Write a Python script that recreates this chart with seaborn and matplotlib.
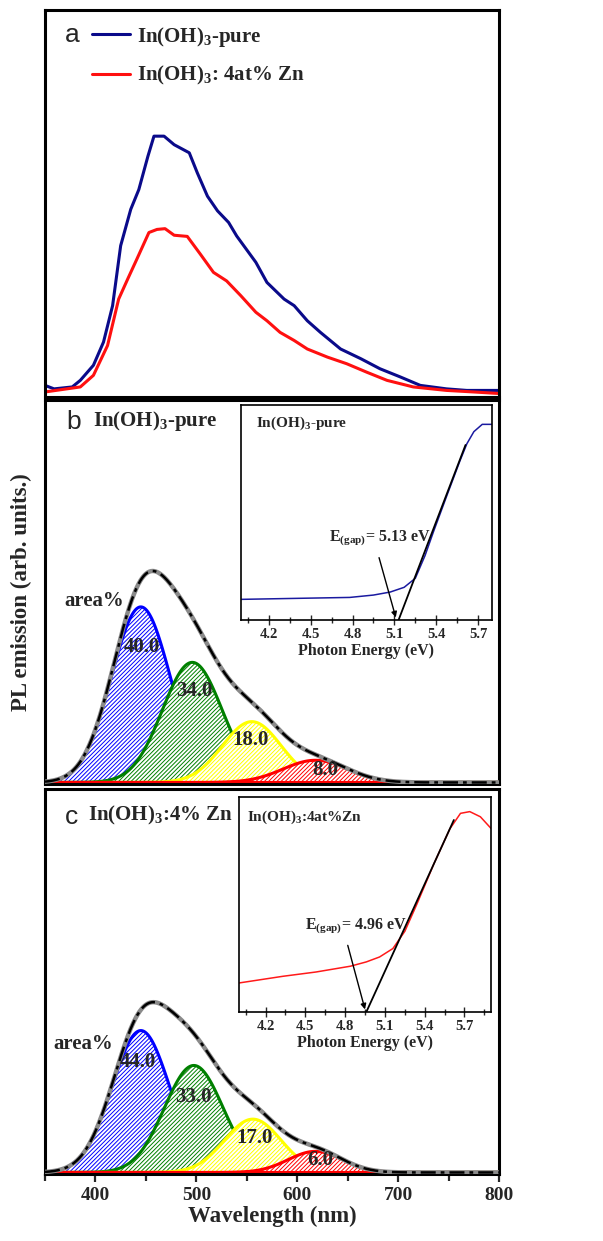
import numpy as np
import matplotlib
matplotlib.use("Agg")
import matplotlib.pyplot as plt
import seaborn as sns
from matplotlib.ticker import MultipleLocator, NullLocator

# ---------------- data ----------------
# panel a: PL spectra
wl_pure = [350, 359, 377, 385, 398, 408, 417, 425, 435, 443, 452, 458, 468, 478, 493, 501, 511,
           521, 532, 540, 559, 570, 587, 597, 610, 623, 643, 663, 682, 702, 722, 748, 768, 800]
pl_pure = [0.030, 0.021, 0.026, 0.043, 0.082, 0.142, 0.236, 0.391, 0.485, 0.536, 0.622, 0.674,
           0.674, 0.652, 0.631, 0.579, 0.519, 0.481, 0.451, 0.416, 0.348, 0.296, 0.253, 0.236,
           0.197, 0.167, 0.124, 0.099, 0.073, 0.052, 0.030, 0.021, 0.017, 0.017]
wl_zn = [350, 385, 398, 412, 423, 432, 441, 453, 461, 469, 478, 491, 504, 517, 530, 544, 559,
         570, 583, 597, 610, 630, 649, 669, 689, 715, 748, 775, 800]
pl_zn = [0.013, 0.026, 0.056, 0.133, 0.253, 0.305, 0.356, 0.425, 0.433, 0.435, 0.418, 0.415,
         0.369, 0.322, 0.300, 0.262, 0.219, 0.197, 0.167, 0.146, 0.124, 0.103, 0.086, 0.064,
         0.043, 0.026, 0.017, 0.013, 0.009]
legend_labels = [r"In(OH)$_\mathregular{3}$-pure", r"In(OH)$_\mathregular{3}$: 4at% Zn"]

# panels b, c: fitted Gaussian components (centre nm, height, sigma nm)
comp_colors = ["#0000ff", "#008000", "#ffff00", "#ff0000"]
centers_b = [445, 496, 555, 618]
heights_b = [0.459, 0.314, 0.159, 0.058]
sigmas_b = [29, 29.5, 29, 32]
areas_b = ["40.0", "34.0", "18.0", "8.0"]

centers_c = [445, 497.5, 556, 618]
heights_c = [0.370, 0.279, 0.139, 0.055]
sigmas_c = [28.5, 29, 28, 27]
areas_c = ["44.0", "33.0", "17.0", "6.0"]

# insets: absorption vs photon energy
e_b = [4.0, 4.43, 4.78, 4.95, 5.07, 5.17, 5.25, 5.32, 5.38, 5.48, 5.57, 5.62, 5.67, 5.73, 5.80]
a_b = [0.096, 0.101, 0.105, 0.116, 0.130, 0.152, 0.194, 0.30, 0.41, 0.585, 0.74, 0.82, 0.876,
       0.910, 0.910]
tan_b_e = [5.13, 5.61]
tan_b_a = [0.0, 0.814]

e_c = [4.0, 4.33, 4.58, 4.84, 4.96, 5.06, 5.16, 5.25, 5.34, 5.47, 5.59, 5.67, 5.74, 5.82, 5.90]
a_c = [0.135, 0.166, 0.186, 0.213, 0.233, 0.256, 0.295, 0.375, 0.50, 0.69, 0.852, 0.924, 0.932,
       0.908, 0.854]
tan_c_e = [4.96, 5.62]
tan_c_a = [0.0, 0.893]

# ---------------- style ----------------
sns.set_theme(style="white")
plt.rcParams["font.family"] = ["Liberation Serif", "DejaVu Serif"]
plt.rcParams["font.weight"] = "bold"
plt.rcParams["axes.labelweight"] = "bold"
plt.rcParams["mathtext.fontset"] = "custom"
plt.rcParams["mathtext.rm"] = "Liberation Serif:bold"
plt.rcParams["mathtext.it"] = "Liberation Serif:bold"
plt.rcParams["mathtext.bf"] = "Liberation Serif:bold"
plt.rcParams["hatch.linewidth"] = 0.7
plt.rcParams["axes.edgecolor"] = "black"

fig = plt.figure(figsize=(6.03, 12.41), dpi=100)
W, H = 603.0, 1241.0


def add_ax(x0, y0, x1, y1):
    return fig.add_axes([x0 / W, 1 - y1 / H, (x1 - x0) / W, (y1 - y0) / H])


ax_a = add_ax(45, 10, 499, 397)
ax_b = add_ax(45, 400, 499, 784)
ax_c = add_ax(45, 789, 499, 1174)

for ax in (ax_a, ax_b, ax_c):
    ax.set_xlim(350, 800)
    for s in ax.spines.values():
        s.set_linewidth(2.2)
        s.set_color("black")
    ax.yaxis.set_major_locator(NullLocator())
ax_a.set_ylim(0, 1)
ax_b.set_ylim(-0.004, 1)
ax_c.set_ylim(-0.004, 1)

# ---- panel a ----
sns.lineplot(x=wl_pure, y=pl_pure, color="#0a0a8a", lw=2.2, ax=ax_a, label=legend_labels[0],
             estimator=None, sort=False)
sns.lineplot(x=wl_zn, y=pl_zn, color="#ff1010", lw=2.2, ax=ax_a, label=legend_labels[1],
             estimator=None, sort=False)
ax_a.legend(loc="upper left", bbox_to_anchor=(0.103, 0.962), frameon=False, fontsize=15,
            handlelength=1.85, handletextpad=0.3, labelspacing=0.75, borderpad=0,
            borderaxespad=0)
ax_a.set_xticks([])
ax_a.set_ylabel("")
ax_a.set_xlabel("")
ax_a.text(0.044, 0.935, "a", transform=ax_a.transAxes, family="Liberation Sans",
          weight="normal", fontsize=19, va="center", ha="left")

# ---- panels b, c ----
grid = np.linspace(350, 800, 901)


def draw_fit(ax, centers, heights, sigmas, areas, label_pos, area_pos):
    total = np.zeros_like(grid)
    for c, h, s, col in zip(centers, heights, sigmas, comp_colors):
        y = h * np.exp(-(grid - c) ** 2 / (2 * s ** 2))
        total += y
        ax.fill_between(grid, 0, y, facecolor="white", edgecolor=col, hatch="////////",
                        lw=2.2, zorder=2)
    sns.lineplot(x=grid, y=total, color="#8a8a8a", lw=3.2, ax=ax, estimator=None, sort=False,
                 zorder=3)
    sns.lineplot(x=grid, y=total, color="black", lw=1.8, ax=ax, estimator=None, sort=False,
                 zorder=4, linestyle=(0, (6, 2, 1.5, 2)))
    for txt, (x, y) in zip(areas, label_pos):
        ax.text(x, y, txt, fontsize=15, fontweight="bold", ha="center", va="center", zorder=5)
    ax.text(area_pos[0], area_pos[1], "area%", fontsize=15, fontweight="bold", ha="left",
            va="center", zorder=5)
    ax.set_ylabel("")
    ax.set_xlabel("")


draw_fit(ax_b, centers_b, heights_b, sigmas_b, areas_b,
         [(446, 0.353), (498, 0.24), (554, 0.11), (628, 0.032)], (369, 0.474))
draw_fit(ax_c, centers_c, heights_c, sigmas_c, areas_c,
         [(442, 0.287), (497.5, 0.197), (558, 0.09), (623, 0.032)], (358, 0.335))

ax_b.set_xticks([])
ax_b.text(0.048, 0.943, "b", transform=ax_b.transAxes, family="Liberation Sans",
          weight="normal", fontsize=19, va="center", ha="left")
ax_b.text(0.106, 0.945, r"In(OH)$_\mathregular{3}$-pure", transform=ax_b.transAxes,
          fontsize=15, fontweight="bold", va="center", ha="left")
ax_c.text(0.044, 0.927, "c", transform=ax_c.transAxes, family="Liberation Sans",
          weight="normal", fontsize=19, va="center", ha="left")
ax_c.text(0.095, 0.93, r"In(OH)$_\mathregular{3}$:4% Zn", transform=ax_c.transAxes,
          fontsize=15, fontweight="bold", va="center", ha="left")

ax_c.xaxis.set_major_locator(MultipleLocator(100))
ax_c.xaxis.set_minor_locator(MultipleLocator(50))
ax_c.tick_params(axis="x", which="both", direction="out", bottom=True, width=1.6,
                 labelsize=14, pad=3)
ax_c.tick_params(axis="x", which="major", length=6)
ax_c.tick_params(axis="x", which="minor", length=5)
for lab in ax_c.get_xticklabels():
    lab.set_fontweight("bold")
ax_c.set_xlabel("Wavelength (nm)", fontsize=16.5, fontweight="bold", labelpad=2)

fig.text(0.036, 1 - 592 / H, "PL emission (arb. units.)", rotation=90, fontsize=16.5,
         fontweight="bold", ha="center", va="center")

# ---- insets ----
in_b = add_ax(241, 405, 492, 620)
in_c = add_ax(239, 797, 491, 1012)


def style_inset(ax, xmax):
    ax.set_xlim(4.0, xmax)
    ax.set_ylim(0, 1)
    for s in ax.spines.values():
        s.set_linewidth(1.2)
        s.set_color("black")
    ax.yaxis.set_major_locator(NullLocator())
    ax.set_xticks(np.round(np.arange(4.2, 5.71, 0.3), 2))
    ax.set_xticks(np.round(np.arange(4.05, xmax, 0.3), 2), minor=True)
    ax.tick_params(axis="x", which="both", direction="inout", bottom=True, width=1.0,
                   labelsize=10.5, pad=2)
    ax.tick_params(axis="x", which="major", length=7)
    ax.tick_params(axis="x", which="minor", length=5)
    ax.set_xticklabels([f"{v:.1f}" for v in np.arange(4.2, 5.71, 0.3)], fontweight="bold")
    ax.set_xlabel("Photon Energy (eV)", fontsize=11.5, fontweight="bold", labelpad=2)
    ax.set_ylabel("")


sns.lineplot(x=e_b, y=a_b, color="#1a1aa0", lw=1.1, ax=in_b, estimator=None, sort=False)
sns.lineplot(x=tan_b_e, y=tan_b_a, color="black", lw=1.3, ax=in_b, estimator=None, sort=False)
style_inset(in_b, 5.8)
in_b.text(4.11, 0.915, r"In(OH)$_\mathregular{3}$-pure", fontsize=11, fontweight="bold",
          ha="left", va="center")
in_b.text(4.63, 0.38, r"E$_\mathregular{(gap)}$= 5.13 eV", fontsize=11.5, fontweight="bold",
          ha="left", va="center")
in_b.annotate("", xy=(5.11, 0.012), xytext=(4.99, 0.29),
              arrowprops=dict(arrowstyle="-|>", color="black", lw=1.0, mutation_scale=8,
                              shrinkA=0, shrinkB=0))

sns.lineplot(x=e_c, y=a_c, color="#ff1a1a", lw=1.1, ax=in_c, estimator=None, sort=False)
sns.lineplot(x=tan_c_e, y=tan_c_a, color="black", lw=1.3, ax=in_c, estimator=None, sort=False)
style_inset(in_c, 5.9)
in_c.text(4.06, 0.905, r"In(OH)$_\mathregular{3}$:4at%Zn", fontsize=11, fontweight="bold",
          ha="left", va="center")
in_c.text(4.50, 0.40, r"E$_\mathregular{(gap)}$= 4.96 eV", fontsize=11.5, fontweight="bold",
          ha="left", va="center")
in_c.annotate("", xy=(4.95, 0.012), xytext=(4.82, 0.31),
              arrowprops=dict(arrowstyle="-|>", color="black", lw=1.0, mutation_scale=8,
                              shrinkA=0, shrinkB=0))

fig.savefig("out.png", dpi=100)
